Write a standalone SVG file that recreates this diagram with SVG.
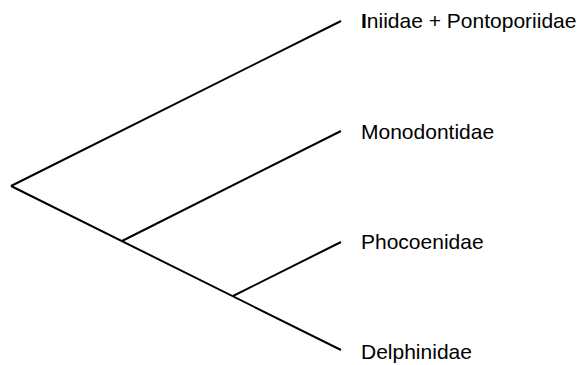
<svg xmlns="http://www.w3.org/2000/svg" width="580" height="365" viewBox="0 0 580 365">
<style>
.edge{stroke:#000;stroke-width:2;fill:none;stroke-linecap:butt}
.lbl{font-family:"Liberation Sans",Arial,Helvetica,sans-serif;font-size:21px;fill:#000}
</style>
<rect width="580" height="365" fill="#fff"/>
<g id="connectors">
<line class="edge" x1="11" y1="186" x2="341" y2="21"/>
<line class="edge" x1="11" y1="186" x2="341" y2="350"/>
<line class="edge" x1="122" y1="241" x2="341" y2="131"/>
<line class="edge" x1="233" y1="296" x2="341" y2="242"/>
</g>
<g id="iniidae"><text class="lbl" x="361" y="28"><tspan font-weight="bold">I</tspan>niidae + Pontoporiidae</text></g>
<g id="monodontidae"><text class="lbl" x="361" y="139">Monodontidae</text></g>
<g id="phocoenidae"><text class="lbl" x="361" y="249">Phocoenidae</text></g>
<g id="delphinidae"><text class="lbl" x="361" y="359">Delphinidae</text></g>
</svg>
